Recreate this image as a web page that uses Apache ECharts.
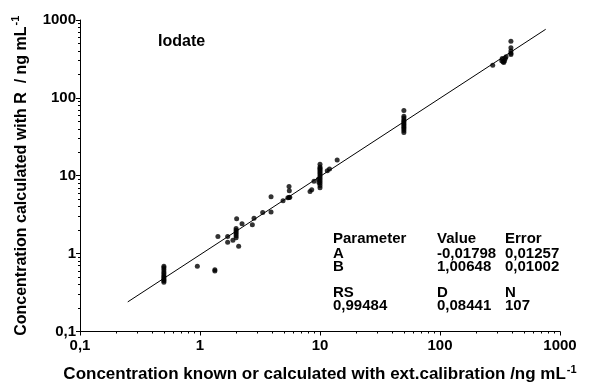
<!DOCTYPE html>
<html>
<head>
<meta charset="utf-8">
<script src="https://cdn.jsdelivr.net/npm/echarts@6/dist/echarts.min.js"></script>
<style>
    html, body { margin: 0; padding: 0; background: #fff; }
    #chart { width: 589px; height: 390px; }
</style>
</head>
<body>
<div id="chart"></div>
<script>
// known concentration (x) and concentration calculated with R (y), ng/mL
var xKnown = [
    0.5, 0.5, 0.5, 0.5, 0.5, 0.5, 0.5, 0.5, 0.5, 0.5, 0.5,
    0.95, 1.33, 1.33, 1.41, 1.70, 1.70, 1.88, 2.02,
    2.0, 2.0, 2.0, 2.0, 2.0, 2.0,
    2.10, 2.24, 2.73, 2.82, 3.33, 3.91, 3.91, 4.92,
    5.52, 5.52, 5.55, 5.4, 5.6,
    8.26, 8.53, 8.91,
    10, 10, 10, 10, 10, 10, 10, 10, 10, 10, 10, 10, 10, 10,
    9.7, 9.8, 11.5, 12.0, 13.9,
    50, 50, 50, 50, 50, 50, 50, 50, 50, 50, 50, 50,
    275, 327, 335, 340, 345, 350, 355, 330,
    390, 390, 390, 390, 390
];
var yCalc = [
    0.43, 0.45, 0.46, 0.48, 0.50, 0.52, 0.55, 0.58, 0.62, 0.66, 0.69,
    0.69, 0.62, 0.60, 1.66, 1.66, 1.40, 1.49, 2.8,
    1.6, 1.7, 1.8, 1.9, 2.0, 2.1,
    1.24, 2.42, 2.35, 2.85, 3.37, 5.36, 3.43, 4.76,
    5.25, 7.3, 6.4, 5.2, 5.3,
    6.3, 6.6, 8.5,
    7.0, 7.5, 8.0, 8.5, 9.0, 9.5, 10, 10.5, 11, 11.5, 12, 12.5, 13, 14,
    9.0, 8.2, 11.6, 12.2, 15.9,
    69, 58, 55, 52, 50, 48, 46, 44, 42, 40, 38, 36,
    263, 300, 290, 284, 300, 320, 338, 320,
    532, 440, 399, 373, 360
];

// regression line end points
var fitX = [0.25, 760];
var fitY = [0.24, 760];

var tickValues = [0.1, 1, 10, 100, 1000];
var tickLabels = ['0,1', '1', '10', '100', '1000'];

var tableCols = [
    ['Parameter', 'A', 'B', '', 'RS', '0,99484'],
    ['Value', '-0,01798', '1,00648', '', 'D', '0,08441'],
    ['Error', '0,01257', '0,01002', '', 'N', '107']
];

var FONT = 'Liberation Sans';

function tickFormatter(v) {
    for (var i = 0; i < tickValues.length; i++) {
        if (Math.abs(v - tickValues[i]) < tickValues[i] * 1e-6) return tickLabels[i];
    }
    return '';
}

var minorTicks = [];
for (var d = 0.1; d < 999; d *= 10) {
    for (var k = 2; k <= 9; k++) minorTicks.push(+(d * k).toPrecision(3));
}

var points = [];
for (var i = 0; i < xKnown.length; i++) points.push([xKnown[i], yCalc[i]]);
var fitLine = [];
for (var j = 0; j < fitX.length; j++) fitLine.push([fitX[j], fitY[j]]);

var axisLineStyle = { color: '#000', width: 1 };

function nameStyle(size) {
    return {
        color: '#000',
        fontFamily: FONT,
        fontWeight: 'bold',
        fontSize: size,
        rich: {
            a: { fontFamily: FONT, fontWeight: 'bold', fontSize: size, color: '#000', lineHeight: 20 },
            sup: { fontFamily: FONT, fontWeight: 'bold', fontSize: 11, color: '#000', lineHeight: 20, padding: [0, 0, 10, 1] }
        }
    };
}

function mainAxis(extra) {
    var a = {
        type: 'log',
        logBase: 10,
        min: 0.1,
        max: 1000,
        splitLine: { show: false },
        axisLine: { show: true, onZero: false, lineStyle: axisLineStyle },
        axisTick: { show: true, length: 4, lineStyle: axisLineStyle },
        nameLocation: 'middle'
    };
    for (var key in extra) a[key] = extra[key];
    return a;
}

function minorAxis(pos) {
    return {
        type: 'log',
        logBase: 10,
        min: 0.1,
        max: 1000,
        position: pos,
        splitLine: { show: false },
        axisLine: { show: false },
        axisLabel: { show: false },
        axisTick: { show: true, length: 2, customValues: minorTicks, lineStyle: axisLineStyle }
    };
}

var graphicTexts = [{
    type: 'text',
    left: 158,
    top: 34,
    style: { text: 'Iodate', font: 'bold 16px "' + FONT + '"', fill: '#000' }
}];
var colX = [333, 437, 505];
var rowY = [231, 246, 259, 0, 285, 298];
for (var c = 0; c < tableCols.length; c++) {
    for (var r = 0; r < tableCols[c].length; r++) {
        if (!tableCols[c][r]) continue;
        graphicTexts.push({
            type: 'text',
            left: colX[c],
            top: rowY[r],
            style: { text: tableCols[c][r], font: 'bold 15px "' + FONT + '"', fill: '#000' }
        });
    }
}

var myChart = echarts.init(document.getElementById('chart'), null, { renderer: 'canvas' });
var option = {
    backgroundColor: '#fff',
    animation: false,
    grid: { left: 80, right: 29, top: 20, bottom: 53 },
    xAxis: [
        mainAxis({
            position: 'bottom',
            name: '{a|Concentration known or calculated with ext.calibration /ng mL}{sup|-1}',
            nameGap: 33,
            nameTextStyle: nameStyle(17),
            axisLabel: {
                formatter: tickFormatter, color: '#000', fontFamily: FONT,
                fontWeight: 'bold', fontSize: 15, margin: 7
            }
        }),
        minorAxis('bottom')
    ],
    yAxis: [
        mainAxis({
            position: 'left',
            name: '{a|Concentration calculated with R  / ng mL}{sup|-1}',
            nameRotate: 90,
            nameGap: 44,
            nameTextStyle: nameStyle(16),
            axisLabel: {
                formatter: tickFormatter, color: '#000', fontFamily: FONT,
                fontWeight: 'bold', fontSize: 15, margin: 4
            }
        }),
        minorAxis('left')
    ],
    graphic: graphicTexts,
    series: [
        {
            type: 'line',
            data: fitLine,
            xAxisIndex: 0,
            yAxisIndex: 0,
            showSymbol: false,
            lineStyle: { color: '#000', width: 1 },
            silent: true
        },
        {
            type: 'scatter',
            data: points,
            xAxisIndex: 0,
            yAxisIndex: 0,
            symbol: 'circle',
            symbolSize: 5,
            itemStyle: { color: '#000' }
        }
    ]
};
myChart.setOption(option);
</script>
</body>
</html>
